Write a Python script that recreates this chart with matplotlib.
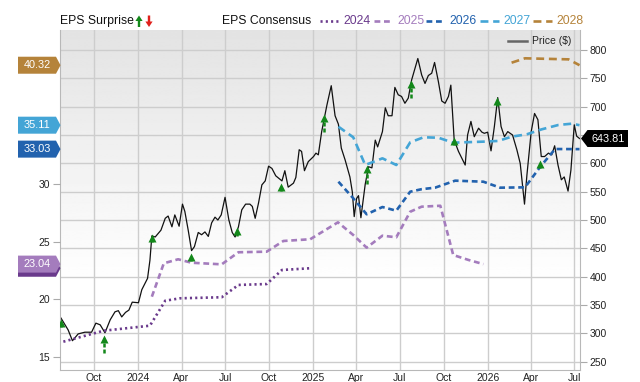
import matplotlib
matplotlib.use('Agg')
import matplotlib.pyplot as plt
from matplotlib.patches import Polygon
from matplotlib.lines import Line2D
from matplotlib.transforms import IdentityTransform, ScaledTranslation
import numpy as np
import pandas as pd

plt.rcParams['font.family'] = ['Liberation Sans', 'DejaVu Sans']

# ---- data ----
start = pd.Timestamp('2023-07-22')   # left edge of the chart
end = pd.Timestamp('2026-07-13')     # right edge

# weekly-ish closing price, days counted from start
price_day = [2, 17, 26, 38, 52, 66, 75, 84, 94, 105,
             115, 122, 129, 137, 144, 151, 164, 171, 183, 188,
             192, 199, 211, 220, 226, 234, 240, 249, 256, 261,
             268, 275, 281, 289, 296, 303, 310, 317, 324, 330,
             337, 345, 353, 360, 366, 373, 380, 388, 397, 402,
             408, 415, 422, 429, 436, 443, 451, 464, 470, 477,
             488, 493, 500, 505, 511, 519, 530, 535, 540, 547,
             558, 567, 575, 582, 588, 596, 606, 611, 615, 620,
             624, 629, 638, 645, 652, 659, 664, 674, 680, 686,
             694, 700, 707, 714, 721, 728, 735, 748, 756, 763,
             770, 777, 783, 791, 798, 805, 812, 817, 824, 833,
             840, 847, 852, 859, 866, 875, 882, 887, 894, 901,
             908, 915, 922, 929, 936, 946, 955, 962, 971, 976,
             985, 992, 999, 1006, 1013, 1021, 1028, 1034, 1041, 1048,
             1054, 1062, 1068, 1075, 1080, 1086]
price = [327, 306, 287, 299, 302, 302, 318, 315, 301, 324,
         338, 340, 329, 337, 341, 355, 354, 377, 397, 429,
         472, 470, 482, 503, 507, 488, 509, 489, 528, 515,
         482, 446, 453, 478, 474, 479, 471, 495, 505, 500,
         509, 540, 500, 478, 470, 488, 518, 528, 528, 524,
         503, 530, 562, 569, 595, 591, 578, 569, 587, 558,
         565, 575, 624, 621, 587, 603, 612, 618, 615, 656,
         703, 737, 684, 669, 627, 606, 576, 550, 506, 538,
         543, 504, 563, 594, 592, 641, 629, 656, 698, 684,
         684, 734, 721, 718, 706, 715, 747, 785, 756, 741,
         755, 759, 778, 744, 710, 706, 718, 738, 641, 621,
         609, 597, 650, 674, 647, 662, 655, 653, 655, 622,
         665, 716, 665, 647, 656, 650, 624, 600, 528, 579,
         656, 688, 677, 612, 612, 618, 615, 631, 597, 571,
         576, 551, 588, 668, 648, 643.81]

eps24_day = [7, 91, 188, 220, 251, 338, 373, 432, 464, 523]
eps24 = [16.30, 17.25, 17.69, 19.86, 20.07, 20.16, 21.23, 21.31, 22.53, 22.68]

eps25_day = [192, 217, 247, 275, 338, 373, 432, 467, 523, 581,
             613, 641, 674, 703, 732, 756, 795, 822, 854, 885]
eps25 = [20.21, 23.11, 23.46, 23.16, 23.02, 24.07, 24.12, 25.05, 25.20, 26.67,
         25.57, 24.47, 25.51, 25.37, 27.59, 28.03, 28.11, 23.83, 23.40, 23.04]

eps26_day = [582, 613, 641, 674, 703, 732, 756, 784, 826, 885, 920, 972, 1004, 1035, 1086]
eps26 = [30.20, 28.76, 27.37, 28.00, 27.68, 29.33, 29.55, 29.68, 30.29, 30.20,
         29.68, 29.71, 31.50, 33.04, 33.03]

eps27_day = [582, 613, 638, 674, 703, 732, 760, 791, 822, 885, 916, 944, 976, 1007, 1042, 1070, 1086]
eps27 = [34.98, 34.06, 31.65, 32.23, 31.65, 33.62, 34.06, 34.02, 33.59, 33.68,
         33.74, 34.11, 34.32, 34.75, 35.13, 35.24, 35.11]

eps28_day = [944, 972, 1063, 1086]
eps28 = [40.54, 40.92, 40.83, 40.32]

# positive EPS surprises (arrow from / to, in price units)
surp_day = [2, 93, 192, 273, 371, 461, 552, 641, 733, 824, 913, 1004]
surp_from = [312, 265, 462, 428, 472, 552, 655, 563, 716, 632, 702, 592]
surp_to = [325, 296, 474, 442, 487, 565, 687, 597, 747, 646, 716, 606]

years = ['2024', '2025', '2026', '2027', '2028']
colors = ['#6a3a8c', '#a47cbd', '#2262ae', '#44a5d6', '#b5833a']
styles = [(0, (0.8, 1.2)), (0, (2.2, 1.4)), (0, (2.2, 1.4)), (0, (3, 1.8)), (0, (3, 1.8))]

qticks = pd.date_range('2023-10-01', '2026-07-01', freq='QS')
qlabels = ['Oct', '2024', 'Apr', 'Jul', 'Oct', '2025', 'Apr', 'Jul', 'Oct', '2026', 'Apr', 'Jul']

price_ticks = list(range(250, 801, 50))
green = '#13881a'


def days(d):
    return start + pd.to_timedelta(d, unit='D')


# ---- figure ----
W, H = 640, 382
fig = plt.figure(figsize=(6.4, 3.82), dpi=100)
L, R, B, T = 60, 580, 370, 30
axp = fig.add_axes([L / W, 1 - B / H, (R - L) / W, (B - T) / H])
ax = axp.twinx()
axa = axp.twinx()
axp.set_zorder(1)
ax.set_zorder(2)
axa.set_zorder(3)
axp.yaxis.tick_right()
ax.yaxis.tick_left()
axa.yaxis.set_visible(False)

# background gradient
g = np.linspace(0, 1, 256)[:, None]
g = np.clip(0.89 + 0.11 * g / 0.75, 0, 1)
axp.imshow(g, cmap='gray', vmin=0, vmax=1, extent=[0, 1, 0, 1], transform=axp.transAxes,
           aspect='auto', zorder=0, origin='upper')

axp.set_xlim(start, end)
axp.set_ylim(235.3, 835.3)
axa.set_ylim(235.3, 835.3)
ax.set_ylim(13.84, 43.38)

last_price = price[-1]
axp.set_yticks(price_ticks)
# the tick label hidden under the last-price tag is left out, as in the source
axp.set_yticklabels(['' if abs(t - last_price) < 15 else str(t) for t in price_ticks])
axp.set_xticks(qticks)
axp.set_xticklabels(qlabels)
axp.grid(True, color='#cdcdcd', lw=1)
axp.tick_params(axis='y', length=5, color='#aaaaaa', labelsize=7.5, labelcolor='#222222', pad=2)
axp.tick_params(axis='x', length=0, labelsize=7.5, labelcolor='#222222', pad=2.5)
for side in ['left', 'right', 'bottom']:
    axp.spines[side].set_color('#b8b8b8')
axp.spines['top'].set_visible(False)

ax.set_yticks([15, 20, 25, 30])
ax.tick_params(axis='y', length=5, color='#aaaaaa', labelsize=7.5, labelcolor='#222222', pad=2)
for a in (ax, axa):
    for s in a.spines.values():
        s.set_visible(False)

axp.plot(days(price_day), price, color='#111111', lw=0.9, zorder=2)

eps_days = [eps24_day, eps25_day, eps26_day, eps27_day, eps28_day]
eps_vals = [eps24, eps25, eps26, eps27, eps28]
for d, v, c, ls in zip(eps_days, eps_vals, colors, styles):
    ax.plot(days(d), v, color=c, lw=1.9, linestyle=ls, dash_capstyle='butt')

# surprise arrows: dashed stem + triangle head whose tip sits on the value
ms = 5.3
head_shift = axa.transData + ScaledTranslation(0, -ms / 2 / 72, fig.dpi_scale_trans)
for d, a, b in zip(surp_day, surp_from, surp_to):
    x = days(d)
    axa.plot([x, x], [a, b - 5], color=green, lw=1.8, linestyle=(0, (1.6, 0.8)),
             solid_capstyle='butt', dash_capstyle='butt')
    axa.plot([x], [b], marker='^', ms=ms, color=green, mec='none', transform=head_shift)

ID = IdentityTransform()


def ypx(axis, val):
    return axis.transData.transform((axis.get_xlim()[0], val))[1]


def left_tag(val, color, txt):
    y = ypx(ax, val)
    h = 8.5
    fig.add_artist(Polygon([(18, y - h), (56, y - h), (60.5, y), (56, y + h), (18, y + h)],
                           closed=True, facecolor=color, edgecolor='none', transform=ID, zorder=10))
    if txt:
        fig.text(37, y, txt, transform=ID, color='white', fontsize=7.8, ha='center', va='center',
                 zorder=11)


# 2024 tag lies under the 2025 one; only its lower edge shows
left_tag(eps24[-1], colors[0], '')
left_tag(eps25[-1], colors[1], '%.2f' % eps25[-1])
left_tag(eps26[-1], colors[2], '%.2f' % eps26[-1])
left_tag(eps27[-1], colors[3], '%.2f' % eps27[-1])
left_tag(eps28[-1], colors[4], '%.2f' % eps28[-1])

y = ypx(axp, last_price)
fig.add_artist(Polygon([(581, y), (587.5, y + 8.5), (628, y + 8.5), (628, y - 8.5), (587.5, y - 8.5)],
                       closed=True, facecolor='black', edgecolor='none', transform=ID, zorder=10))
fig.text(608, y, '%.2f' % last_price, transform=ID, color='white', fontsize=7.8,
         ha='center', va='center', zorder=11)

# ---- top legend ----
ly = H - 21
fig.text(60, ly, 'EPS Surprise', transform=ID, fontsize=8.8, va='center', color='#111111')


def px_arrow(x, y0, y1, color):
    # y0 tail, y1 tip, display pixels
    s = 1 if y1 > y0 else -1
    hb = y1 - s * 5.5
    fig.add_artist(Polygon([(x - 1.2, y0), (x + 1.2, y0), (x + 1.2, hb), (x + 3.6, hb), (x, y1),
                            (x - 3.6, hb), (x - 1.2, hb)], closed=True, facecolor=color,
                           edgecolor='none', transform=ID, zorder=10))


px_arrow(139, ly - 6, ly + 5.5, green)
px_arrow(149, ly + 5.5, ly - 6, '#e0201b')

fig.text(222, ly, 'EPS Consensus', transform=ID, fontsize=8.8, va='center', color='#111111')
leg_x = [320, 374, 426, 480, 533]
for x0, yr, c, ls in zip(leg_x, years, colors, styles):
    fig.add_artist(Line2D([x0, x0 + 19], [ly, ly], transform=ID, color=c, lw=1.9, linestyle=ls,
                          dash_capstyle='butt'))
    fig.text(x0 + 23, ly, yr, transform=ID, fontsize=8.8, va='center', color=c)

# price legend inside the plot
py = H - 41
fig.add_artist(Line2D([508, 527], [py, py], transform=ID, color='#666666', lw=1.8, zorder=10))
fig.text(532, py, 'Price ($)', transform=ID, fontsize=7.5, va='center', color='#222222', zorder=10)

fig.savefig('out.png', dpi=100)
